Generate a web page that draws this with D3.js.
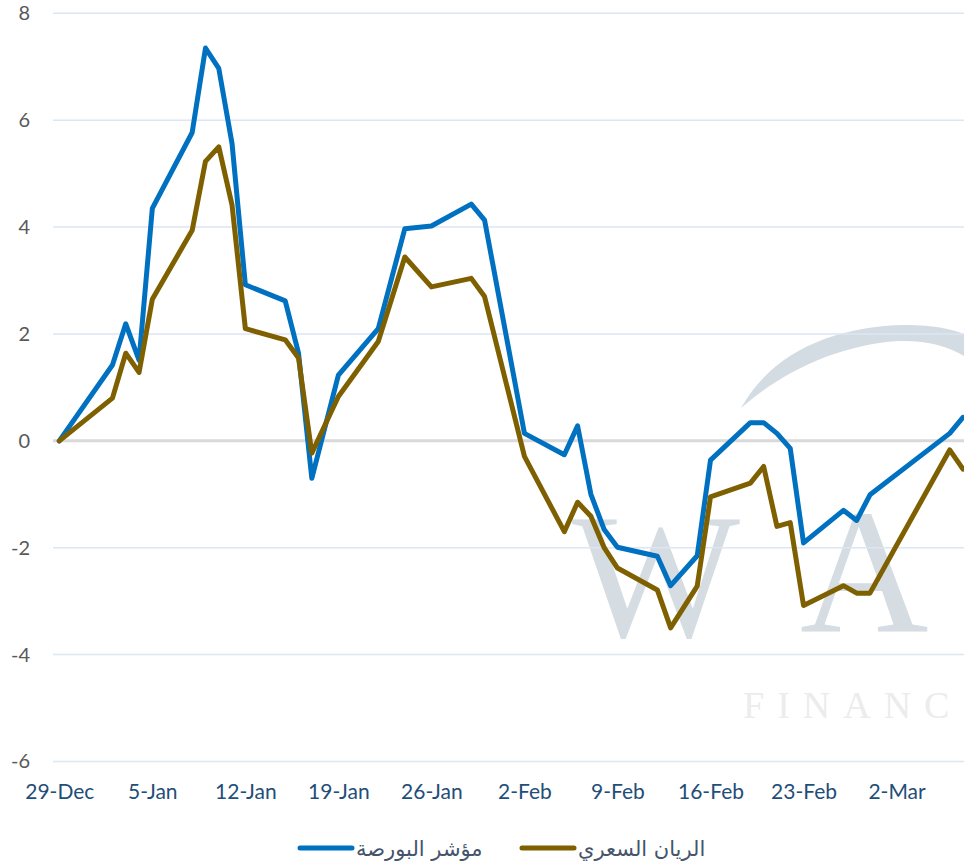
<!DOCTYPE html>
<html>
<head>
<meta charset="utf-8">
<script src="https://cdn.jsdelivr.net/npm/d3@7"></script>
<style>
  body { margin: 0; background: #fff; }
  svg { display: block; }
</style>
</head>
<body>
<svg width="964" height="862"></svg>
<script>
// trading days (daily % change since 29-Dec)
var dates = ["2016-12-29","2017-01-02","2017-01-03","2017-01-04","2017-01-05","2017-01-08","2017-01-09",
  "2017-01-10","2017-01-11","2017-01-12","2017-01-15","2017-01-16","2017-01-17","2017-01-19","2017-01-22",
  "2017-01-24","2017-01-26","2017-01-29","2017-01-30","2017-02-02","2017-02-05","2017-02-06","2017-02-07",
  "2017-02-08","2017-02-09","2017-02-12","2017-02-13","2017-02-15","2017-02-16","2017-02-19","2017-02-20",
  "2017-02-21","2017-02-22","2017-02-23","2017-02-26","2017-02-27","2017-02-28","2017-03-06","2017-03-07"];

var indexValues = [0, 1.42, 2.19, 1.51, 4.35, 5.77, 7.35, 6.97, 5.56, 2.92, 2.62, 1.64, -0.70, 1.23, 2.10,
  3.97, 4.02, 4.43, 4.13, 0.14, -0.26, 0.28, -1.00, -1.66, -1.99, -2.16, -2.71, -2.15, -0.36, 0.34, 0.34,
  0.14, -0.14, -1.91, -1.30, -1.49, -1.01, 0.14, 0.44];

var rayanValues = [0, 0.80, 1.64, 1.28, 2.65, 3.94, 5.23, 5.50, 4.41, 2.10, 1.89, 1.55, -0.23, 0.83, 1.86,
  3.44, 2.88, 3.04, 2.70, -0.29, -1.70, -1.15, -1.41, -2.00, -2.38, -2.79, -3.50, -2.72, -1.05, -0.79, -0.48,
  -1.60, -1.53, -3.08, -2.71, -2.85, -2.85, -0.17, -0.53];

var seriesNames = ["مؤشر البورصة", "الريان السعري"];
var seriesColors = ["#0070C0", "#7F6000"];

var xTicks = ["2016-12-29","2017-01-05","2017-01-12","2017-01-19","2017-01-26","2017-02-02",
  "2017-02-09","2017-02-16","2017-02-23","2017-03-02"];
var yTicks = [-6, -4, -2, 0, 2, 4, 6, 8];

var parse = d3.utcParse("%Y-%m-%d");
var fmt = d3.utcFormat("%-d-%b");

var svg = d3.select("svg");

var x = d3.scaleUtc()
  .domain([parse("2016-12-29"), parse("2017-03-07")])
  .range([59.3, 963]);
var y = d3.scaleLinear().domain([-6, 8]).range([761.5, 13.3]);

// watermark
var wm = svg.append("g").attr("class", "watermark");
wm.append("path")
  .attr("d", "M741,408 C772,352 835,326 905,325 C935,325 955,330 964,334 L964,356 C948,346 925,340 898,341 C838,345 782,372 741,408 Z")
  .attr("fill", "#d3dce2");
wm.append("text")
  .attr("x", 572).attr("y", 636)
  .attr("font-family", "Liberation Serif")
  .attr("font-size", 178)
  .attr("fill", "#d5dde3")
  .text("W");
wm.append("text")
  .attr("x", 800).attr("y", 632)
  .attr("font-family", "Liberation Serif")
  .attr("font-size", 178)
  .attr("fill", "#d5dde3")
  .text("A");
wm.append("text")
  .attr("x", 743).attr("y", 718)
  .attr("font-family", "Liberation Serif")
  .attr("font-size", 38)
  .attr("letter-spacing", 13)
  .attr("fill", "#ececec")
  .text("FINANC");

// grid
svg.append("g").selectAll("line")
  .data(yTicks)
  .join("line")
  .attr("x1", 53).attr("x2", 964)
  .attr("y1", function (d) { return y(d); })
  .attr("y2", function (d) { return y(d); })
  .attr("stroke", function (d) { return d === 0 ? "#d9d9d9" : "#dce6f4"; })
  .attr("stroke-width", function (d) { return d === 0 ? 3 : 1.5; });

// axes
var yAxis = svg.append("g")
  .attr("transform", "translate(53,0)")
  .call(d3.axisLeft(y).tickValues(yTicks).tickSize(0).tickPadding(23).tickFormat(function (d) { return String(d); }));
yAxis.select(".domain").remove();
yAxis.selectAll("text")
  .attr("font-family", "Lato")
  .attr("font-size", 20)
  .attr("fill", "#595959");

var xAxis = svg.append("g")
  .attr("transform", "translate(0,761.5)")
  .call(d3.axisBottom(x).tickValues(xTicks.map(parse)).tickSize(0).tickPadding(23).tickFormat(fmt));
xAxis.select(".domain").remove();
xAxis.selectAll("text")
  .attr("font-family", "Lato")
  .attr("font-size", 21)
  .attr("fill", "#1f4e79");

// lines
var series = [indexValues, rayanValues];
var line = d3.line()
  .x(function (d, i) { return x(parse(dates[i])); })
  .y(function (d) { return y(d); });

svg.append("g").selectAll("path")
  .data(series)
  .join("path")
  .attr("d", line)
  .attr("fill", "none")
  .attr("stroke", function (d, i) { return seriesColors[i]; })
  .attr("stroke-width", 5)
  .attr("stroke-linejoin", "round")
  .attr("stroke-linecap", "round");

// legend
var legendX = [298, 520];
var legend = svg.append("g").selectAll("g")
  .data(seriesNames)
  .join("g")
  .attr("transform", function (d, i) { return "translate(" + legendX[i] + ",848)"; });
legend.append("line")
  .attr("x1", 2).attr("x2", 54)
  .attr("stroke", function (d, i) { return seriesColors[i]; })
  .attr("stroke-width", 5)
  .attr("stroke-linecap", "round");
legend.append("text")
  .attr("x", 58).attr("y", 8)
  .attr("font-family", "DejaVu Sans")
  .attr("font-size", 21)
  .attr("fill", "#44546a")
  .text(function (d) { return d; });
</script>
</body>
</html>
